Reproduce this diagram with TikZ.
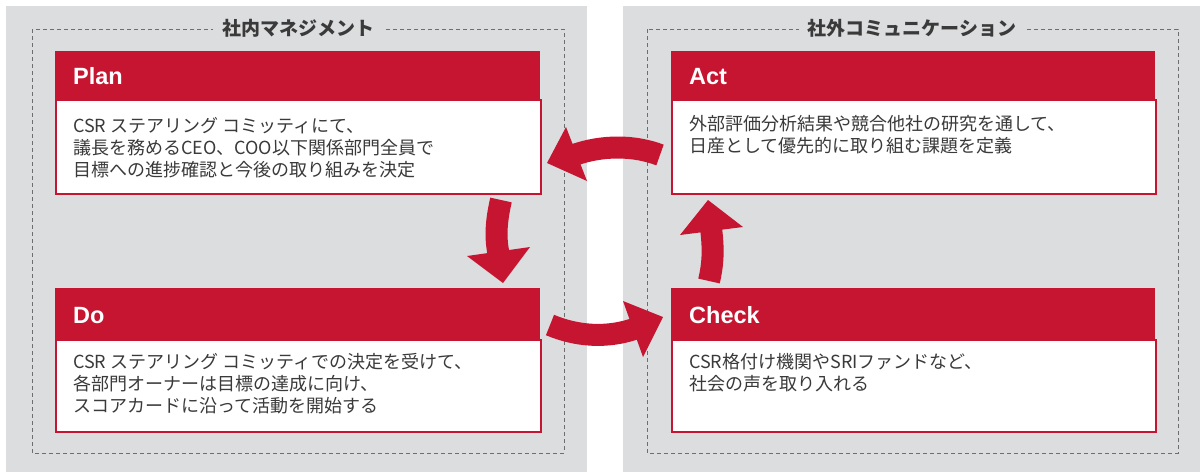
\documentclass[tikz,border=0pt]{standalone}
\usepackage{fontspec}
\setmainfont{Noto Sans CJK JP}
\newfontfamily\hdrfont{Liberation Sans}
\definecolor{pdcared}{RGB}{198,21,48}
\definecolor{panelgray}{RGB}{220,221,223}
\definecolor{dashgray}{RGB}{110,110,110}
\definecolor{txtgray}{RGB}{58,58,58}
\begin{document}
\begin{tikzpicture}[x=1pt,y=-1pt,
  panel/.style={fill=panelgray},
  dashframe/.style={draw=dashgray,line width=0.9pt,dash pattern=on 4pt off 3pt},
  ttl/.style={fill=panelgray,text=txtgray,font=\fontsize{19}{22}\selectfont\bfseries,inner xsep=9pt,inner ysep=2pt},
  hdrbox/.style={fill=pdcared,draw=none,inner sep=0pt,anchor=north west},
  bodybox/.style={fill=white,draw=pdcared,line width=1.5pt,inner sep=0pt,anchor=north west},
  hdrtext/.style={text=white,font=\hdrfont\fontsize{23.5}{25}\selectfont\bfseries,inner sep=0pt,anchor=base west},
  bodytext/.style={text=txtgray,font=\fontsize{18}{22}\selectfont,align=left,inner sep=0pt,anchor=base west},
  shaft/.style={draw=pdcared,line width=22pt},
  head/.style={fill=pdcared}]
\useasboundingbox (0,0) rectangle (1200,472);
% panels
\fill[panel] (6,6) rectangle (587,472);
\fill[panel] (623,6) rectangle (1200,472);
\draw[dashframe] (32,29) rectangle (564,453);
\draw[dashframe] (647,29) rectangle (1178,453);
\node[ttl] (t1) at (298,28) {社内マネジメント};
\node[ttl] (t2) at (912,28) {社外コミュニケーション};
% Plan
\node[hdrbox,minimum width=485pt,minimum height=48pt] (planH) at (55,51) {};
\node[bodybox,minimum width=485pt,minimum height=94pt] (planB) at (55,99) {};
\node[hdrtext] (planT) at (73,84) {Plan};
\node[bodytext] (planX) at (73,176) {CSR ステアリング コミッティにて、\\議長を務めるCEO、COO以下関係部門全員で\\目標への進捗確認と今後の取り組みを決定};
% Act
\node[hdrbox,minimum width=484pt,minimum height=48pt] (actH) at (671,51) {};
\node[bodybox,minimum width=484pt,minimum height=94pt] (actB) at (671,99) {};
\node[hdrtext] (actT) at (689,84) {Act};
\node[bodytext] (actX) at (689,152) {外部評価分析結果や競合他社の研究を通して、\\日産として優先的に取り組む課題を定義};
% Do
\node[hdrbox,minimum width=485pt,minimum height=51pt] (doH) at (55,288) {};
\node[bodybox,minimum width=485pt,minimum height=92pt] (doB) at (55,339) {};
\node[hdrtext] (doT) at (73,323) {Do};
\node[bodytext] (doX) at (73,412) {CSR ステアリング コミッティでの決定を受けて、\\各部門オーナーは目標の達成に向け、\\スコアカードに沿って活動を開始する};
% Check
\node[hdrbox,minimum width=484pt,minimum height=51pt] (chH) at (671,288) {};
\node[bodybox,minimum width=484pt,minimum height=92pt] (chB) at (671,339) {};
\node[hdrtext] (chT) at (689,323) {Check};
\node[bodytext] (chX) at (689,390) {CSR格付け機関やSRIファンドなど、\\社会の声を取り入れる};
% cycle arrows
\coordinate (a1s) at (660,155);
\coordinate (a1e) at (574,155);
\coordinate (a1t) at (547,163);
\draw[shaft] (a1s) .. controls (634,145) and (602,145) .. (a1e);
\fill[head] (a1t) -- (566,127) -- (587,181) -- cycle;
\coordinate (a2s) at (501,200);
\coordinate (a2e) at (499,256);
\coordinate (a2t) at (503,283);
\draw[shaft] (a2s) .. controls (496,222) and (495,238) .. (a2e);
\fill[head] (a2t) -- (467,256) -- (530,247) -- cycle;
\coordinate (a3s) at (550,325);
\coordinate (a3e) at (637,328);
\coordinate (a3t) at (663,317);
\draw[shaft] (a3s) .. controls (576,336) and (607,339) .. (a3e);
\fill[head] (a3t) -- (623,301) -- (643,357) -- cycle;
\coordinate (a4s) at (709,281);
\coordinate (a4e) at (711,228);
\coordinate (a4t) at (708,200);
\draw[shaft] (a4s) .. controls (714,260) and (713,245) .. (a4e);
\fill[head] (a4t) -- (680,235) -- (743,227) -- cycle;
\end{tikzpicture}
\end{document}
